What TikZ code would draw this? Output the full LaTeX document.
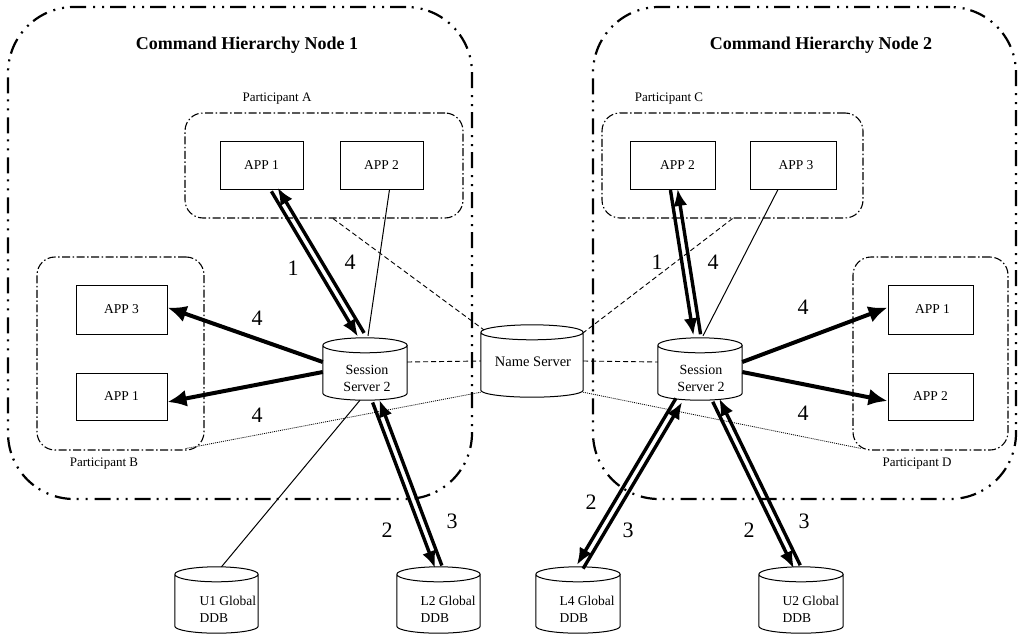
\documentclass[tikz,border=0pt]{standalone}
\usepackage{fontspec}
\setmainfont{Liberation Serif}
\usetikzlibrary{arrows.meta,calc}

% outline of a database drum drawn over a plain rectangular node
\newcommand\drumoutline[1]{%
  \draw[drumline] let \p1=(#1.north west), \p2=(#1.south east), \n1={(\x2-\x1)/2} in
    (\x1,\y1-7.5pt) -- (\x1,\y2+7pt)
    arc[start angle=180, end angle=360, x radius={\n1*1pt}, y radius=7pt]
    -- (\x2,\y1-7.5pt)
    (\x1,\y1-7.5pt) arc[start angle=180, end angle=-180, x radius={\n1*1pt}, y radius=7.5pt];
}
% two opposed parallel arrows between two points
\newcommand\pairlink[2]{%
  \draw[pairarrow] ($(#1)!3.6pt!-90:(#2)$) -- ($(#2)!3.6pt!90:(#1)$);
  \draw[pairarrow] ($(#2)!3.6pt!-90:(#1)$) -- ($(#1)!3.6pt!90:(#2)$);
}

\begin{document}
\begin{tikzpicture}[x=1pt,y=1pt,
  bigframe/.style={draw, line width=2.2pt, rounded corners=66pt,
    dash pattern=on 16pt off 6pt on 2pt off 7pt on 2pt off 7pt},
  partframe/.style={draw, line width=1.1pt, rounded corners=18pt,
    dash pattern=on 8pt off 2.5pt on 1.5pt off 2.5pt},
  title/.style={font=\bfseries\fontsize{18}{20}\selectfont},
  plabel/.style={font=\fontsize{13}{15}\selectfont},
  appbox/.style={draw, fill=white, line width=1pt, minimum width=84pt, minimum height=48pt,
    inner sep=0pt, font=\fontsize{13.5}{15}\selectfont},
  drum/.style={fill=white, inner sep=0pt},
  drumline/.style={line width=1pt},
  drumtext/.style={align=left, anchor=west, font=\fontsize{13.5}{17}\selectfont},
  srvtext/.style={align=center, font=\fontsize{14}{17}\selectfont},
  num/.style={font=\fontsize{22}{24}\selectfont},
  thinline/.style={line width=1pt},
  bigarrow/.style={line width=4pt, -{Latex[length=19pt,width=17pt]}},
  pairarrow/.style={line width=3.4pt, -{Latex[length=17pt,width=14pt]}},
  nsdash/.style={line width=0.9pt, dash pattern=on 5pt off 3pt},
  nsdot/.style={line width=0.8pt, dash pattern=on 1pt off 1pt}
]
\useasboundingbox (0,0) rectangle (1019,-634);

% command hierarchy frames
\node[bigframe, minimum width=464pt, minimum height=492pt] (chn1) at (240,-253) {};
\node[bigframe, minimum width=423pt, minimum height=492pt] (chn2) at (804.5,-253) {};
\node[title] (t1) at (247,-45) {Command Hierarchy Node 1};
\node[title] (t2) at (821,-45) {Command Hierarchy Node 2};

% participant groups
\node[partframe, minimum width=278pt, minimum height=105pt] (partA) at (324,-165.5) {};
\node[partframe, minimum width=261pt, minimum height=105pt] (partC) at (732.5,-165.5) {};
\node[partframe, minimum width=167pt, minimum height=193pt] (partB) at (120.5,-353.5) {};
\node[partframe, minimum width=155pt, minimum height=193pt] (partD) at (930.5,-353.5) {};
\node[plabel] (lA) at (277,-99) {Participant A};
\node[plabel] (lC) at (669,-99) {Participant C};
\node[plabel] (lB) at (104,-464) {Participant B};
\node[plabel] (lD) at (917,-464) {Participant D};

% applications
\node[appbox, minimum width=83pt] (app1a) at (261.5,-165) {APP 1};
\node[appbox, minimum width=83pt] (app2a) at (381.5,-165) {APP 2};
\node[appbox, minimum width=85pt] (app2c) at (672.5,-165) {\hspace{10pt}APP 2};
\node[appbox, minimum width=86pt] (app3c) at (793,-165) {\hspace{6pt}APP 3};
\node[appbox, minimum width=91pt, minimum height=49pt] (app3b) at (121.5,-309.5) {APP 3};
\node[appbox, minimum width=91pt, minimum height=47pt] (app1b) at (121.5,-396.5) {APP 1};
\node[appbox, minimum width=85pt, minimum height=49pt] (app1d) at (930.5,-309.5) {\hspace{4pt}APP 1};
\node[appbox, minimum width=85pt, minimum height=47pt] (app2d) at (930.5,-396.5) {APP 2};

% servers and databases
\node[drum, minimum width=84pt, minimum height=62pt] (ssl) at (365,-369) {};
\node[drum, minimum width=102pt, minimum height=72pt] (ns) at (532,-361) {};
\node[drum, minimum width=84pt, minimum height=62pt] (ssr) at (700,-369) {};
\node[drum, minimum width=83pt, minimum height=66pt] (u1) at (216.5,-600) {};
\node[drum, minimum width=83pt, minimum height=66pt] (l2) at (438.5,-600) {};
\node[drum, minimum width=84pt, minimum height=66pt] (l4) at (578,-600) {};
\node[drum, minimum width=84pt, minimum height=66pt] (u2) at (801,-600) {};
\foreach \d in {ssl,ns,ssr,u1,l2,l4,u2} {\drumoutline{\d}}
\node[srvtext] (sslt) at (367,-378) {Session\\Server 2};
\node[srvtext] (ssrt) at (701,-378) {Session\\Server 2};
\node[srvtext, font=\fontsize{14.5}{17}\selectfont] (nst) at (533,-362) {Name Server};
\node[drumtext] (u1t) at (196,-609) {U1 Global\\DDB};
\node[drumtext] (l2t) at (417,-609) {L2 Global\\DDB};
\node[drumtext] (l4t) at (556,-609) {L4 Global\\DDB};
\node[drumtext] (u2t) at (779,-609) {U2 Global\\DDB};

% name server links
\draw[nsdash] ([yshift=7pt]ssl.east) -- (ns.west);
\draw[nsdash] (ns.east) -- ([yshift=7pt]ssr.west);
\draw[nsdash] ([xshift=9pt]partA.south) -- ([xshift=3pt,yshift=-5pt]ns.north west);
\draw[nsdash] (partC.south) -- ([yshift=-8pt]ns.north east);
\draw[nsdot] ([xshift=-19pt,yshift=2pt]partB.south east) -- ([yshift=5pt]ns.south west);
\draw[nsdot] ([yshift=5pt]ns.south east) -- ([xshift=9pt,yshift=2pt]partD.south west);

% session server 2, command hierarchy node 1
\coordinate (a1s) at ([xshift=13pt]app1a.south);
\coordinate (sl1) at ([xshift=-4pt,yshift=3pt]ssl.north);
\pairlink{a1s}{sl1}
\draw[thinline] ([xshift=8pt]app2a.south) -- ([xshift=3pt,yshift=2pt]ssl.north);
\draw[bigarrow] ([yshift=7pt]ssl.west) -- ([yshift=2pt]app3b.east);
\draw[bigarrow] ([yshift=-3pt]ssl.west) -- ([yshift=-5.5pt]app1b.east);
\draw[thinline] ([xshift=-5pt]ssl.south) -- ([xshift=5pt]u1.north);
\coordinate (sl2) at ([xshift=11pt,yshift=-1pt]ssl.south);
\coordinate (l2n) at (l2.north);
\pairlink{sl2}{l2n}

% session server 2, command hierarchy node 2
\coordinate (c2s) at ([xshift=1.5pt]app2c.south);
\coordinate (sr1) at ([xshift=-3pt,yshift=3pt]ssr.north);
\pairlink{c2s}{sr1}
\draw[thinline] ([xshift=-15pt]app3c.south) -- ([xshift=3pt,yshift=2pt]ssr.north);
\draw[bigarrow] ([yshift=7pt]ssr.east) -- ([yshift=2pt]app1d.west);
\draw[bigarrow] ([yshift=-3pt]ssr.east) -- ([yshift=-4.5pt]app2d.west);
\coordinate (sr2) at ([xshift=-21pt]ssr.south);
\coordinate (l4n) at ([xshift=2pt]l4.north);
\pairlink{sr2}{l4n}
\coordinate (sr3) at ([xshift=16pt]ssr.south);
\coordinate (u2n) at ([xshift=-4pt]u2.north);
\pairlink{sr3}{u2n}

% message order numbers
\node[num] (n1a) at (293,-268) {1};
\node[num] (n4a) at (350,-262) {4};
\node[num] (n4b) at (257,-318) {4};
\node[num] (n4c) at (257,-415) {4};
\node[num] (n2a) at (387,-530) {2};
\node[num] (n3a) at (452,-521) {3};
\node[num] (n1c) at (657,-262) {1};
\node[num] (n4d) at (713,-262) {4};
\node[num] (n4e) at (803,-307) {4};
\node[num] (n4f) at (803,-413) {4};
\node[num] (n2b) at (591,-502) {2};
\node[num] (n3b) at (628,-530) {3};
\node[num] (n2c) at (749,-530) {2};
\node[num] (n3c) at (804,-521) {3};
\end{tikzpicture}
\end{document}
